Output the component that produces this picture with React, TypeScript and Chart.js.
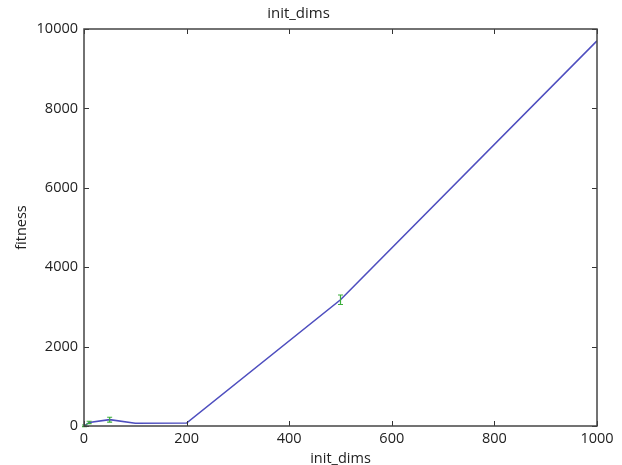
import React, { useEffect, useRef } from "react";
import { Chart, registerables } from "chart.js";

Chart.register(...registerables);

// init_dims sweep: mean fitness and its spread
const initDims = [1, 10, 50, 100, 200, 500, 1000];
const fitness = [5, 90, 160, 70, 75, 3180, 9700];
const fitnessErr = [20, 30, 60, 0, 0, 120, 0];
const xTicks = [0, 200, 400, 600, 800, 1000];
const yTicks = [0, 2000, 4000, 6000, 8000, 10000];

const FONT = "'Open Sans', sans-serif";

// Frame, inward ticks on every side and green error bars
const framePlugin = {
  id: "frameAndErrors",
  afterDatasetsDraw(chart: any) {
    const { ctx, scales } = chart;
    const xs = scales.x;
    const ys = scales.y;
    ctx.save();
    ctx.strokeStyle = "#3cae3c";
    ctx.lineWidth = 1.2;
    initDims.forEach((d, i) => {
      if (!fitnessErr[i]) return;
      const px = xs.getPixelForValue(d);
      const top = ys.getPixelForValue(fitness[i] + fitnessErr[i]);
      const bot = ys.getPixelForValue(fitness[i] - fitnessErr[i]);
      ctx.beginPath();
      ctx.moveTo(px, top);
      ctx.lineTo(px, bot);
      ctx.moveTo(px - 2.5, top);
      ctx.lineTo(px + 2.5, top);
      ctx.moveTo(px - 2.5, bot);
      ctx.lineTo(px + 2.5, bot);
      ctx.stroke();
    });
    ctx.restore();
  },
  afterDraw(chart: any) {
    const { ctx, chartArea, scales } = chart;
    const { left, right, top, bottom } = chartArea;
    const xs = scales.x;
    const ys = scales.y;
    ctx.save();
    ctx.strokeStyle = "#333";
    ctx.lineWidth = 1;
    const tl = 5;
    ctx.beginPath();
    xTicks.forEach((v) => {
      const px = Math.round(xs.getPixelForValue(v)) + 0.5;
      ctx.moveTo(px, bottom);
      ctx.lineTo(px, bottom - tl);
      ctx.moveTo(px, top);
      ctx.lineTo(px, top + tl);
    });
    yTicks.forEach((v) => {
      const py = Math.round(ys.getPixelForValue(v)) + 0.5;
      ctx.moveTo(left, py);
      ctx.lineTo(left + tl, py);
      ctx.moveTo(right, py);
      ctx.lineTo(right - tl, py);
    });
    ctx.stroke();
    ctx.strokeStyle = "#444";
    ctx.lineWidth = 1.5;
    ctx.strokeRect(left, top, right - left, bottom - top);
    ctx.restore();
  },
};

export default function App() {
  const ref = useRef<HTMLCanvasElement | null>(null);

  useEffect(() => {
    if (!ref.current) return;
    const chart = new Chart(ref.current, {
      type: "line",
      data: {
        datasets: [
          {
            label: "fitness",
            data: initDims.map((d, i) => ({ x: d, y: fitness[i] })),
            borderColor: "#4e4ebf",
            borderWidth: 1.6,
            pointRadius: 0,
            fill: false,
            tension: 0,
          },
        ],
      },
      options: {
        animation: false,
        responsive: false,
        maintainAspectRatio: false,
        layout: { padding: { left: 0, right: 25, top: 0, bottom: 0 } },
        plugins: {
          legend: { display: false },
          tooltip: { enabled: false },
          title: {
            display: true,
            text: "init_dims",
            color: "#222",
            font: { family: FONT, size: 15, weight: "normal" },
            padding: { top: 5, bottom: 6 },
          },
        },
        scales: {
          x: {
            type: "linear",
            min: 0,
            max: 1000,
            afterBuildTicks: (s: any) => {
              s.ticks = xTicks.map((v) => ({ value: v }));
            },
            afterFit: (s: any) => {
              s.height = 39;
            },
            grid: { display: false, drawTicks: false },
            border: { display: false },
            ticks: {
              color: "#222",
              font: { family: FONT, size: 14.5 },
              padding: 4,
              maxRotation: 0,
              callback: (v: any) => String(v),
            },
            title: {
              display: true,
              text: "init_dims",
              color: "#222",
              font: { family: FONT, size: 14.5 },
              padding: { top: 0, bottom: -3 },
            },
          },
          y: {
            type: "linear",
            min: 0,
            max: 10000,
            afterBuildTicks: (s: any) => {
              s.ticks = yTicks.map((v) => ({ value: v }));
            },
            afterFit: (s: any) => {
              s.width = 84;
            },
            grid: { display: false, drawTicks: false },
            border: { display: false },
            ticks: {
              color: "#222",
              font: { family: FONT, size: 14.5 },
              padding: 6,
              callback: (v: any) => String(v),
            },
            title: {
              display: true,
              text: "fitness",
              color: "#222",
              font: { family: FONT, size: 14.5 },
              padding: { top: 13, bottom: 0 },
            },
          },
        },
      },
      plugins: [framePlugin],
    });
    return () => chart.destroy();
  }, []);

  return (
    <div
      style={{
        position: "fixed",
        left: 0,
        top: 0,
        width: 622,
        height: 465,
        background: "#fff",
      }}
    >
      <canvas ref={ref} width={622} height={465} />
    </div>
  );
}
